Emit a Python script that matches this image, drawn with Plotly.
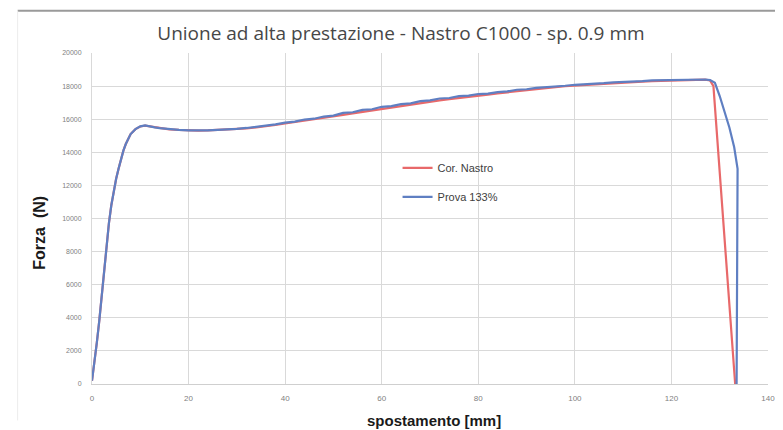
import plotly.graph_objects as go

# ---- data ----
x_cor = [0, 0.5, 1, 1.5, 2, 2.5, 3, 3.5, 4, 4.5, 5, 5.5, 6, 6.5, 7, 7.5, 8, 9, 10, 11, 12, 13, 14,
         16, 18, 20, 22, 24, 26, 28, 30, 32, 34, 36, 38, 40, 42, 44, 46, 48, 50, 52, 54, 56, 58,
         60, 62, 64, 66, 68, 70, 72, 74, 76, 78, 80, 82, 84, 86, 88, 90, 92, 94, 96, 98, 100,
         102, 104, 106, 108, 110, 112, 114, 116, 118, 120, 122, 124, 126, 127, 128, 128.7, 133.2]
y_cor = [200, 1200, 2500, 3800, 5300, 6800, 8400, 9700, 10800, 11700, 12400, 13000, 13600, 14100,
         14500, 14850, 15100, 15400, 15560, 15610, 15570, 15500, 15450,
         15390, 15350, 15320, 15310, 15320, 15350, 15370, 15400, 15440, 15510, 15570, 15650,
         15740, 15820, 15900, 15990, 16070, 16170, 16260, 16350, 16440, 16530,
         16630, 16710, 16800, 16890, 16980, 17060, 17140, 17210, 17290, 17350, 17420, 17490,
         17560, 17630, 17700, 17760, 17830, 17880, 17940, 17990, 18030,
         18070, 18110, 18150, 18180, 18210, 18240, 18270, 18300, 18320, 18350, 18370, 18390,
         18400, 18390, 18340, 18000, 0]

x_prova = [0, 0.5, 1, 1.5, 2, 2.5, 3, 3.5, 4, 4.5, 5, 5.5, 6, 6.5, 7, 7.5, 8, 9, 10, 11, 12, 13, 14,
           16, 18, 20, 22, 24, 26, 28, 30, 32, 34, 36, 38, 40, 42, 44, 46, 48, 50, 52, 54, 56, 58,
           60, 62, 64, 66, 68, 70, 72, 74, 76, 78, 80, 82, 84, 86, 88, 90, 92, 94, 96, 98, 100,
           102, 104, 106, 108, 110, 112, 114, 116, 118, 120, 122, 124, 126, 127, 128, 129, 130,
           131, 132, 133, 133.7, 133.5]
y_prova = [200, 1200, 2500, 3800, 5300, 6800, 8400, 9700, 10800, 11700, 12400, 13000, 13600, 14100,
           14500, 14850, 15100, 15400, 15570, 15630, 15590, 15510, 15460,
           15400, 15360, 15330, 15320, 15330, 15360, 15380, 15420, 15470, 15540, 15600, 15690,
           15790, 15850, 15980, 16030, 16160, 16220, 16380, 16420, 16560, 16600,
           16750, 16790, 16910, 16960, 17090, 17140, 17250, 17280, 17390, 17420, 17520, 17550,
           17640, 17680, 17780, 17810, 17890, 17920, 17990, 18020, 18080,
           18100, 18160, 18180, 18230, 18240, 18290, 18300, 18340, 18350, 18390, 18400, 18410,
           18410, 18400, 18360, 18200, 17400, 16500, 15500, 14300, 13000, 0]

series_names = ["Cor. Nastro", "Prova 133%"]
series_colors = ["#E8696A", "#5F7FC2"]

title_text = "Unione ad alta prestazione - Nastro C1000 - sp. 0.9 mm"
x_title = "spostamento [mm]"
y_title = "Forza  (N)"

fig = go.Figure()
fig.add_trace(go.Scatter(x=x_cor, y=y_cor, mode="lines", name=series_names[0],
                         legendgroup="a", line=dict(color=series_colors[0], width=2.2)))
fig.add_trace(go.Scatter(x=x_prova, y=y_prova, mode="lines", name=series_names[1],
                         legendgroup="b", line=dict(color=series_colors[1], width=2.2)))

font_family = "Liberation Sans, Arial, sans-serif"

# page body has an 8px default margin, so the figure is sized 775x422
fig.update_layout(
    width=775, height=422,
    margin=dict(l=84, r=15, t=45, b=46, autoexpand=False),
    paper_bgcolor="white", plot_bgcolor="white",
    title=dict(text=title_text, x=0.507, xanchor="center", y=0.94, yanchor="middle",
               font=dict(family="Open Sans, sans-serif", size=19, color="#474747")),
    showlegend=True,
    legend=dict(x=0.452, y=0.697, xanchor="left", yanchor="top",
                bgcolor="rgba(255,255,255,0)", tracegroupgap=10, itemwidth=30,
                font=dict(family=font_family, size=11, color="#404040")),
    font=dict(family=font_family),
)

fig.update_xaxes(range=[0, 140], dtick=20, tick0=0, automargin=False,
                 showgrid=True, gridcolor="#d9d9d9", gridwidth=1,
                 showline=True, linecolor="#cfcfcf", linewidth=1, mirror=False,
                 zeroline=False, ticks="", ticklabelstandoff=6,
                 tickfont=dict(family=font_family, size=8, color="#7f7f7f"))
fig.update_yaxes(range=[0, 20000], dtick=2000, tick0=0, tickformat="d", automargin=False,
                 showgrid=True, gridcolor="#d9d9d9", gridwidth=1,
                 showline=True, linecolor="#d9d9d9", linewidth=1,
                 zeroline=False, ticks="", ticklabelstandoff=8,
                 tickfont=dict(family=font_family, size=7, color="#7f7f7f"))

# axis titles placed as annotations
fig.add_annotation(text="<b>" + x_title + "</b>", xref="paper", yref="paper",
                   x=0.506, y=-0.109, xanchor="center", yanchor="middle", showarrow=False,
                   font=dict(family=font_family, size=15, color="#1a1a1a"))
fig.add_annotation(text="<b>" + y_title + "</b>", xref="paper", yref="paper",
                   x=-0.077, y=0.457, xanchor="center", yanchor="middle", showarrow=False,
                   textangle=-90,
                   font=dict(family=font_family, size=16, color="#1a1a1a"))

# chart frame: grey top rule and faint left border
fig.add_shape(type="line", xref="paper", yref="paper", x0=-0.11, x1=1.05, y0=1.128, y1=1.128,
              line=dict(color="#9a9a9a", width=2))
fig.add_shape(type="line", xref="paper", yref="paper", x0=-0.11, x1=-0.11, y0=-0.11, y1=1.128,
              line=dict(color="#ececec", width=1))

fig.write_html("out.html")
